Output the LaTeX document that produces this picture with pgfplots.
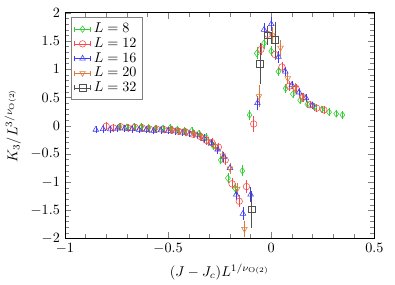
\documentclass[border=0pt]{standalone}
\usepackage{pgfplots}
\pgfplotsset{compat=1.18}
\definecolor{cgreen}{RGB}{50,205,50}
\definecolor{cred}{RGB}{245,75,75}
\definecolor{cblue}{RGB}{60,60,245}
\definecolor{corange}{RGB}{220,120,60}
\definecolor{cgray}{RGB}{80,80,80}
\begin{document}
\begin{tikzpicture}
\begin{axis}[
  scale only axis,
  width=218pt, height=159pt,
  xmin=-1, xmax=0.5, ymin=-2, ymax=2,
  xtick={-1,-0.5,0,0.5}, ytick={-2,-1.5,-1,-0.5,0,0.5,1,1.5,2},
  minor x tick num=4, minor y tick num=4,
  xlabel={$(J-J_c)L^{1/\nu_{\mathrm{O}(2)}}$},
  ylabel={$K_3/L^{3/\nu_{\mathrm{O}(2)}}$},
  legend style={at={(0.02,0.98)},anchor=north west,draw=gray,cells={anchor=west},row sep=-2pt,inner sep=2pt},
  legend image code/.code={
    \draw[#1,mark=none] (0cm,0cm) -- (0.4cm,0cm) (0cm,-1.8pt) -- (0cm,1.8pt) (0.4cm,-1.8pt) -- (0.4cm,1.8pt);
    \draw[#1] plot coordinates {(0.2cm,0cm)};
  },
  every axis plot/.append style={only marks, mark size=2.3pt, line width=0.4pt},
  error bars/error bar style={line width=0.4pt},
  error bars/error mark options={mark size=1.8pt},
]
\addplot+[color=cgreen, mark=diamond, mark options={solid,fill=none}, error bars/.cd, y dir=both, y explicit]
table[x=x,y=y,y error=e]{
x y e
-0.735 -0.02 0.02
-0.700 -0.03 0.02
-0.665 -0.02 0.02
-0.630 -0.02 0.02
-0.595 -0.04 0.02
-0.560 -0.05 0.02
-0.525 -0.05 0.02
-0.490 -0.04 0.02
-0.455 -0.07 0.02
-0.420 -0.09 0.02
-0.385 -0.09 0.02
-0.350 -0.14 0.02
-0.315 -0.21 0.03
-0.280 -0.36 0.03
-0.245 -0.61 0.03
-0.210 -0.93 0.04
-0.175 -1.11 0.05
-0.140 -0.80 0.05
-0.105 0.19 0.05
-0.070 1.28 0.06
-0.035 1.46 0.05
0.000 1.32 0.04
0.035 0.96 0.03
0.070 0.66 0.03
0.105 0.56 0.02
0.140 0.45 0.02
0.175 0.38 0.02
0.210 0.33 0.02
0.245 0.29 0.02
0.280 0.24 0.02
0.315 0.21 0.02
0.345 0.19 0.02
};
\addlegendentry{$L=8$}
\addplot+[color=cred, mark=o, mark options={solid,fill=none}, error bars/.cd, y dir=both, y explicit]
table[x=x,y=y,y error=e]{
x y e
-0.800 -0.01 0.03
-0.765 -0.04 0.02
-0.730 -0.02 0.02
-0.695 -0.04 0.02
-0.660 -0.03 0.02
-0.625 -0.04 0.02
-0.590 -0.06 0.02
-0.555 -0.06 0.02
-0.520 -0.07 0.02
-0.485 -0.08 0.02
-0.450 -0.10 0.02
-0.415 -0.11 0.02
-0.380 -0.15 0.02
-0.345 -0.19 0.03
-0.315 -0.26 0.03
-0.288 -0.30 0.03
-0.256 -0.38 0.03
-0.223 -0.61 0.04
-0.190 -1.03 0.05
-0.155 -1.34 0.06
-0.120 -1.08 0.07
-0.085 0.03 0.10
-0.050 1.35 0.06
-0.018 1.62 0.06
0.018 1.26 0.06
0.052 1.04 0.05
0.087 0.70 0.04
0.120 0.66 0.03
0.153 0.50 0.03
0.187 0.37 0.02
0.220 0.31 0.02
0.255 0.28 0.02
};
\addlegendentry{$L=12$}
\addplot+[color=cblue, mark=triangle, mark options={solid,fill=none}, error bars/.cd, y dir=both, y explicit]
table[x=x,y=y,y error=e]{
x y e
-0.850 -0.07 0.02
-0.815 -0.06 0.02
-0.780 -0.065 0.02
-0.745 -0.05 0.02
-0.710 -0.05 0.02
-0.675 -0.06 0.02
-0.640 -0.07 0.02
-0.605 -0.07 0.02
-0.570 -0.09 0.02
-0.535 -0.08 0.02
-0.500 -0.09 0.02
-0.465 -0.10 0.02
-0.430 -0.12 0.02
-0.395 -0.14 0.02
-0.360 -0.17 0.02
-0.325 -0.23 0.03
-0.290 -0.31 0.03
-0.260 -0.42 0.03
-0.230 -0.55 0.04
-0.200 -0.75 0.05
-0.170 -1.22 0.06
-0.137 -1.56 0.07
-0.100 -1.22 0.08
-0.067 0.40 0.08
-0.035 1.70 0.08
0.000 1.80 0.08
0.035 1.22 0.06
0.068 0.96 0.04
0.100 0.72 0.03
0.135 0.59 0.03
0.168 0.49 0.03
0.200 0.36 0.02
};
\addlegendentry{$L=16$}
\addplot+[color=corange, mark=triangle, mark options={solid,fill=none,rotate=180}, error bars/.cd, y dir=both, y explicit]
table[x=x,y=y,y error=e]{
x y e
-0.480 -0.08 0.02
-0.445 -0.10 0.02
-0.410 -0.12 0.02
-0.375 -0.15 0.02
-0.340 -0.20 0.03
-0.305 -0.28 0.03
-0.270 -0.37 0.03
-0.235 -0.53 0.04
-0.200 -0.76 0.05
-0.165 -1.12 0.06
-0.130 -1.83 0.10
-0.060 0.52 0.15
0.005 1.60 0.10
0.045 1.38 0.10
0.080 0.84 0.06
0.115 0.67 0.04
0.150 0.50 0.03
};
\addlegendentry{$L=20$}
\addplot+[color=cgray, mark=square, mark options={solid,fill=none}, error bars/.cd, y dir=both, y explicit]
table[x=x,y=y,y error=e]{
x y e
-0.095 -1.48 0.28
-0.055 1.10 0.32
-0.018 1.60 0.12
0.018 1.52 0.28
};
\addlegendentry{$L=32$}
\end{axis}
\path ([shift={(-40pt,-29pt)}]current axis.south west) rectangle ([shift={(14.5pt,9pt)}]current axis.north east);
\end{tikzpicture}
\end{document}
